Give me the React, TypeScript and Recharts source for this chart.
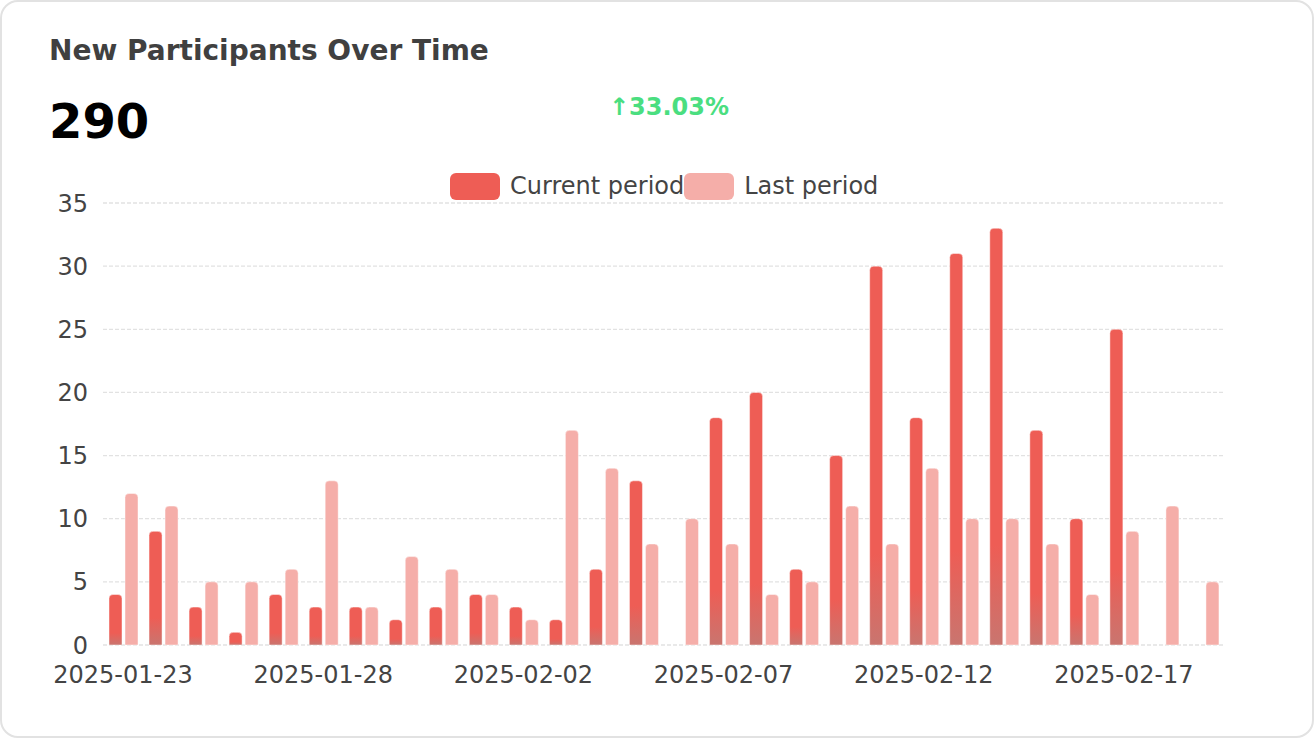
import { BarChart, Bar, XAxis, YAxis, CartesianGrid } from "recharts";

const dates = [
  "2025-01-23", "2025-01-24", "2025-01-25", "2025-01-26", "2025-01-27", "2025-01-28", "2025-01-29",
  "2025-01-30", "2025-01-31", "2025-02-01", "2025-02-02", "2025-02-03", "2025-02-04", "2025-02-05",
  "2025-02-06", "2025-02-07", "2025-02-08", "2025-02-09", "2025-02-10", "2025-02-11", "2025-02-12",
  "2025-02-13", "2025-02-14", "2025-02-15", "2025-02-16", "2025-02-17", "2025-02-18", "2025-02-19",
];
const currentPeriod = [4, 9, 3, 1, 4, 3, 3, 2, 3, 4, 3, 2, 6, 13, 0, 18, 20, 6, 15, 30, 18, 31, 33, 17, 10, 25, 0, 0];
const lastPeriod = [12, 11, 5, 5, 6, 13, 3, 7, 6, 4, 2, 17, 14, 8, 10, 8, 4, 5, 11, 8, 14, 10, 10, 8, 4, 9, 11, 5];
const yTicks = [0, 5, 10, 15, 20, 25, 30, 35];

const data = dates.map((date, i) => ({ date, current: currentPeriod[i], last: lastPeriod[i] }));

const font = "'DejaVu Sans', sans-serif";
const red = "#ee5d55";
const pink = "#f5aea9";

function LegendItem({ color, label }: { color: string; label: string }) {
  return (
    <div style={{ display: "flex", alignItems: "center" }}>
      <div style={{ width: 50, height: 27, borderRadius: 6, background: color, marginRight: 10 }} />
      <span style={{ fontSize: 24, lineHeight: "27px", color: "#444" }}>{label}</span>
    </div>
  );
}

export default function App() {
  return (
    <div style={{ position: "fixed", left: 0, top: 0, width: 1314, height: 738, background: "#fff", fontFamily: font }}>
      <div
        style={{
          position: "absolute",
          inset: 0,
          border: "2px solid #e2e2e2",
          borderRadius: 18,
          boxSizing: "border-box",
        }}
      />
      <div style={{ position: "absolute", left: 49, top: 37, fontSize: 28, lineHeight: 1, fontWeight: "bold", color: "#404040", whiteSpace: "nowrap" }}>
        New Participants Over Time
      </div>
      <div style={{ position: "absolute", left: 49, top: 97, fontSize: 48, lineHeight: 1, fontWeight: "bold", color: "#000" }}>
        290
      </div>
      <div
        style={{
          position: "absolute",
          left: 669,
          top: 95,
          transform: "translateX(-50%)",
          fontSize: 24,
          lineHeight: 1,
          fontWeight: "bold",
          color: "#4ade80",
          whiteSpace: "nowrap",
        }}
      >
        ↑33.03%
      </div>
      <div style={{ position: "absolute", left: 450, top: 173, display: "flex" }}>
        <LegendItem color={red} label="Current period" />
        <LegendItem color={pink} label="Last period" />
      </div>
      <div style={{ position: "absolute", left: 0, top: 0 }}>
        <BarChart
          width={1314}
          height={738}
          data={data}
          margin={{ top: 203, right: 90, bottom: 63, left: 0 }}
          barSize={13}
          barGap={3}
        >
          <defs>
            <linearGradient id="curGrad" x1="0" y1="0" x2="0" y2="1">
              <stop offset="0" stopColor={red} />
              <stop offset="0.76" stopColor={red} />
              <stop offset="1" stopColor="#c9756f" />
            </linearGradient>
          </defs>
          <CartesianGrid vertical={false} stroke="#e2e2e2" strokeWidth={1.3} strokeDasharray="4 2" />
          <XAxis
            dataKey="date"
            interval={4}
            axisLine={false}
            tickLine={false}
            height={30}
            tickMargin={15}
            tick={{ fill: "#444", fontSize: 24, fontFamily: font }}
          />
          <YAxis
            domain={[0, 35]}
            ticks={yTicks}
            width={103}
            axisLine={false}
            tickLine={false}
            tickMargin={9}
            tick={{ fill: "#444", fontSize: 24, fontFamily: font }}
          />
          <Bar
            dataKey="current"
            fill="url(#curGrad)"
            stroke="rgba(255,255,255,0.45)"
            strokeWidth={1}
            radius={[4, 4, 0, 0]}
            isAnimationActive={false}
          />
          <Bar
            dataKey="last"
            fill={pink}
            stroke="rgba(255,255,255,0.45)"
            strokeWidth={1}
            radius={[4, 4, 0, 0]}
            isAnimationActive={false}
          />
        </BarChart>
      </div>
    </div>
  );
}
